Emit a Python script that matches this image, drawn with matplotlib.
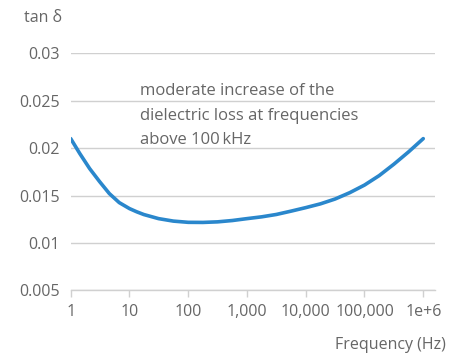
import matplotlib
matplotlib.use("Agg")
import matplotlib.pyplot as plt
from matplotlib.ticker import FixedLocator, FixedFormatter, NullLocator

plt.rcParams['font.family'] = ['Open Sans', 'DejaVu Sans']

freq = [1, 1.43, 2.1, 3.1, 4.55, 6.7, 10, 13.3, 17.6, 31.3, 55.8, 100, 178, 316, 562,
        1000, 1780, 3160, 5620, 10000, 17800, 31600, 56200,
        100000, 178000, 316000, 562000, 1000000]
tan_delta = [0.0210, 0.01942, 0.01784, 0.01647, 0.01520, 0.01425, 0.01362, 0.01328,
             0.01299, 0.01256, 0.01230, 0.01217, 0.01216, 0.01222, 0.01236, 0.01256,
             0.01275, 0.01300, 0.01335, 0.01372, 0.01412, 0.01463, 0.01530, 0.01610,
             0.01710, 0.01830, 0.01960, 0.02100]

x_ticks = [1, 10, 100, 1000, 10000, 100000, 1000000]
x_tick_labels = ["1", "10", "100", "1,000", "10,000", "100,000", "1e+6"]
y_ticks = [0.005, 0.01, 0.015, 0.02, 0.025, 0.03]
y_tick_labels = ["0.005", "0.01", "0.015", "0.02", "0.025", "0.03"]

annotation = "moderate increase of the\ndielectric loss at frequencies\nabove 100\u2009kHz"

W, H = 462, 354
fig = plt.figure(figsize=(W / 100, H / 100), dpi=100)
left, right, bottom, top = 70.7, 435, 290.3, 53.3
ax = fig.add_axes([left / W, (H - bottom) / H, (right - left) / W, (bottom - top) / H])

grey_text = "#666666"
grid_col = "#d0d0d0"
fs = 11.5

ax.plot(freq, tan_delta, color="#2a87cc", lw=2.6, solid_capstyle="round",
        solid_joinstyle="round", zorder=3)
ax.set_xscale("log")
ax.set_xlim(1, 10 ** 6.2)
ax.set_ylim(0.005, 0.03)

ax.xaxis.set_major_locator(FixedLocator(x_ticks))
ax.xaxis.set_major_formatter(FixedFormatter(x_tick_labels))
ax.xaxis.set_minor_locator(NullLocator())
ax.yaxis.set_major_locator(FixedLocator(y_ticks))
ax.yaxis.set_major_formatter(FixedFormatter(y_tick_labels))

for s in ["top", "right", "left"]:
    ax.spines[s].set_visible(False)
ax.spines["bottom"].set_color(grid_col)
ax.spines["bottom"].set_linewidth(1.0)

ax.grid(axis="y", color=grid_col, lw=1.0)
ax.set_axisbelow(True)
ax.tick_params(axis="y", length=0, pad=8, labelsize=fs, labelcolor=grey_text)
ax.tick_params(axis="x", length=5, width=1.0, color=grid_col, pad=5,
               labelsize=fs, labelcolor=grey_text)

fig.text(62 / W, 1 - 18 / H, "tan \u03b4", ha="right", va="center",
         fontsize=fs, color=grey_text)
fig.text(446 / W, 1 - 345 / H, "Frequency (Hz)", ha="right", va="center",
         fontsize=fs, color=grey_text)
fig.text(140 / W, 1 - 83 / H, annotation, ha="left", va="top",
         fontsize=12, color=grey_text, linespacing=1.72)

fig.savefig("out.png", dpi=100)
